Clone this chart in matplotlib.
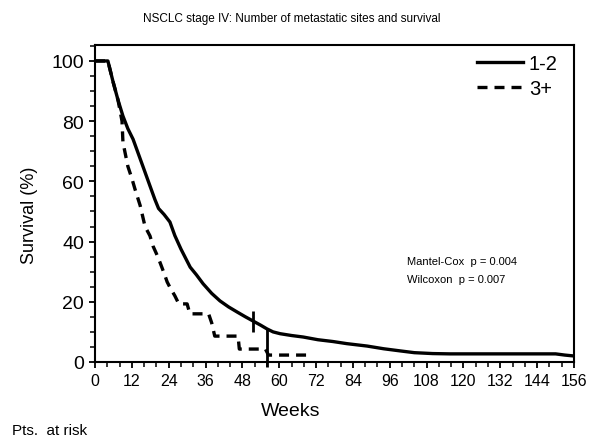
import matplotlib
matplotlib.use("Agg")
import matplotlib.pyplot as plt
from matplotlib.ticker import MultipleLocator

plt.rcParams["font.family"] = ["Liberation Sans", "DejaVu Sans"]

# Kaplan-Meier estimates, 1-2 metastatic sites
weeks_12 = [0, 4.2, 5.9, 7.5, 9.1, 10.7, 12.4, 14, 15.6, 17.9, 19.5, 20.7, 22.5, 24.4,
            26, 28, 31, 33, 35.2, 38, 40.7, 43.5, 46.3, 49, 51.5, 54,
            56, 58, 60.3, 64, 67.8, 72.6, 77.5, 82, 88.6, 94, 99.3, 104, 110,
            115.6, 150, 153, 156]
surv_12 = [100, 100, 93, 87, 81.7, 77.5, 74, 69.5, 65, 58.5, 54, 51, 49, 46.5,
           42, 37.5, 31.5, 29, 26, 22.8, 20.3, 18.3, 16.6, 15, 13.6, 12.2,
           11, 10, 9.4, 8.8, 8.3, 7.4, 6.8, 6.1, 5.3, 4.4, 3.7, 3.1, 2.8,
           2.7, 2.7, 2.3, 2.0]

# Kaplan-Meier estimates, 3+ metastatic sites
weeks_3 = [0, 4.2, 5.9, 7.5, 8.8, 9.1, 10.7, 12, 13, 14.7, 16.3, 17.9, 18.9, 20,
           21.2, 22.5, 23.5, 24.4, 26, 27.3, 30, 30.9, 37, 38, 39, 46.6, 47,
           55.5, 56.5, 71]
surv_3 = [100, 100, 93, 87, 80, 73, 65, 61, 57.5, 52, 45, 41.9, 38.5, 36,
          33, 29.5, 26.6, 24.8, 22, 19.3, 19.3, 16, 16, 13, 8.6, 8.6, 4.3,
          4.3, 2.3, 2.3]

# censored observations drawn as vertical ticks
censor_weeks = [51.5, 56]
censor_low = [10, -1.8]
censor_high = [17, 11]

fig = plt.figure(figsize=(5.99, 4.39), dpi=100)
ax = fig.add_axes([95 / 599, 76 / 439, 479 / 599, 317 / 439])

ax.plot(weeks_12, surv_12, color="black", lw=2.4, label="1-2",
        solid_joinstyle="round")
ax.plot(weeks_3, surv_3, color="black", lw=2.4, ls=(0, (3.0, 2.1)), label="3+")
ax.vlines(censor_weeks, censor_low, censor_high, color="black", lw=2, clip_on=False)

ax.set_xlim(0, 156)
ax.set_ylim(0, 105.3)
ax.xaxis.set_major_locator(MultipleLocator(12))
ax.xaxis.set_minor_locator(MultipleLocator(4))
ax.yaxis.set_major_locator(MultipleLocator(20))
ax.yaxis.set_minor_locator(MultipleLocator(5))
ax.tick_params(axis="x", which="major", labelsize=11.5, length=4.5, width=1.3, direction="out")
ax.tick_params(axis="y", which="major", labelsize=14, length=4.5, width=1.3, direction="out")
ax.tick_params(which="minor", length=3.5, width=1.1, direction="out")
for sp in ax.spines.values():
    sp.set_linewidth(1.5)

ax.legend(loc="upper right", frameon=False, fontsize=14.5, handlelength=2.3,
          handletextpad=0.3, labelspacing=0.3, borderaxespad=0.05,
          bbox_to_anchor=(0.985, 1.0))

ax.text(0.651, 0.319, "Mantel-Cox  p = 0.004", transform=ax.transAxes,
        fontsize=8, va="center")
ax.text(0.651, 0.262, "Wilcoxon  p = 0.007", transform=ax.transAxes,
        fontsize=8, va="center")

fig.text(292 / 599, 1 - 19 / 439, "NSCLC stage IV: Number of metastatic sites and survival",
         ha="center", va="center", fontsize=8.5)
fig.text(30 / 599, 1 - 215 / 439, "Survival (%)", rotation=90,
         ha="center", va="center", fontsize=13)
fig.text(291 / 599, 1 - 412 / 439, "Weeks", ha="center", va="center", fontsize=14)
fig.text(12 / 599, 1 - 424 / 439, "Pts.  at risk", ha="left", va="top", fontsize=11)

fig.savefig("out.png", dpi=100)
